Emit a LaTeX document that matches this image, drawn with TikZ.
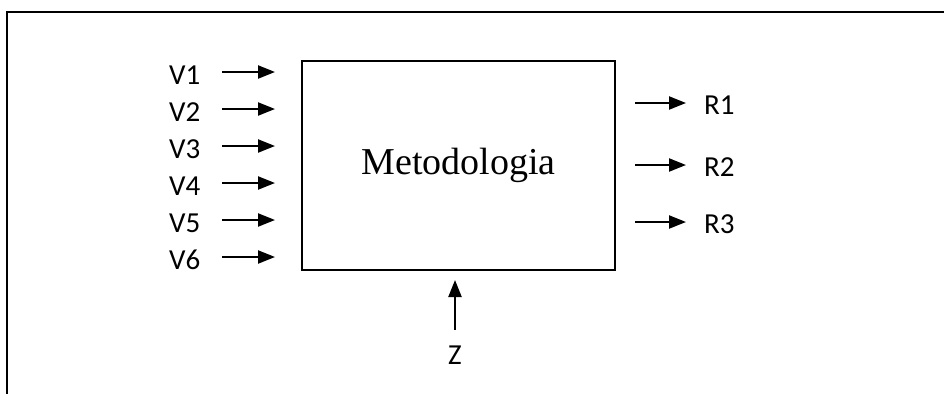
\documentclass[tikz,border=0pt]{standalone}
\usepackage{fontspec}
\setmainfont{Liberation Serif}
\newfontfamily\lblfont{Carlito}
\usetikzlibrary{arrows.meta}
\begin{document}
\begin{tikzpicture}[x=1pt,y=-1pt,
  lbl/.style={font=\lblfont\fontsize{29}{32}\selectfont, inner sep=0pt},
  arr/.style={line width=2.2pt, -{Triangle[length=17pt,width=13pt]}},
  mainbox/.style={draw, line width=1.5pt, minimum width=313pt, minimum height=209pt, inner sep=0pt,
    font=\fontsize{38}{42}\selectfont}]
\useasboundingbox (0,0) rectangle (944,394);
% outer frame (left and top)
\coordinate (fbl) at (7,394);
\coordinate (ftl) at (7,12);
\coordinate (ftr) at (944,12);
\draw[line width=2pt] (fbl) -- (ftl) -- (ftr);
% main box
\node[mainbox] (box) at (458.5,165.5) {Metodologia};
% inputs
\foreach \i/\y in {1/72,2/109,3/146,4/183,5/220,6/257}{
  \node[lbl, anchor=west] (v\i) at (169,\y+3) {V\i};
  \coordinate (vs\i) at (222,\y);
  \coordinate (ve\i) at (275,\y);
  \draw[arr] (vs\i) -- (ve\i);
}
% outputs
\foreach \i/\y in {1/103,2/165,3/222}{
  \coordinate (rs\i) at (635,\y);
  \coordinate (re\i) at (686,\y);
  \draw[arr] (rs\i) -- (re\i);
  \node[lbl, anchor=west] (r\i) at (704,\y+2) {R\i};
}
% Z
\node[lbl] (z) at (455,355) {Z};
\coordinate (zs) at (455,330);
\coordinate (ze) at (455,280);
\draw[arr] (zs) -- (ze);
\end{tikzpicture}
\end{document}
